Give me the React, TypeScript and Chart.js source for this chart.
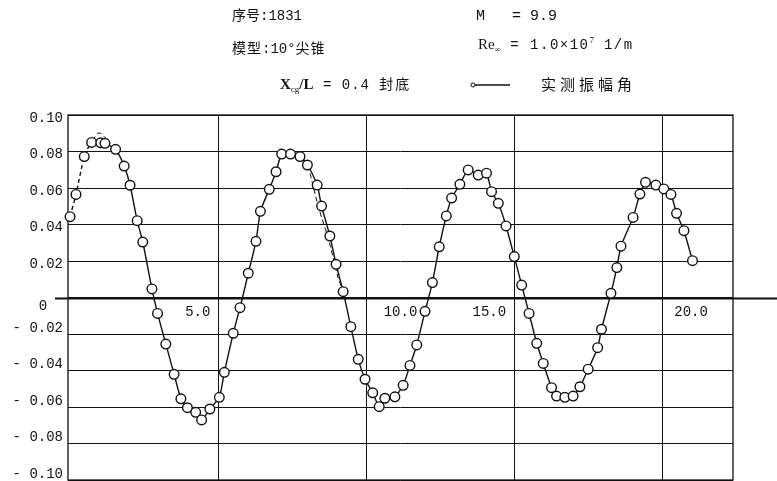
import React, { useEffect, useRef } from "react";
import { Chart, registerables } from "chart.js";

Chart.register(...registerables);

// time axis (x) and measured oscillation amplitude angle (y)
const timeValues = [
  -0.03, 0.17, 0.45, 0.7, 1.01, 1.15, 1.51, 1.8, 2.0, 2.24, 2.43, 2.74, 2.93, 3.21, 3.49, 3.72, 3.94, 4.22, 4.42, 4.7,
  5.02, 5.19, 5.49, 5.72, 6.0, 6.26, 6.41, 6.71, 6.94, 7.13, 7.43, 7.75, 8.0, 8.33, 8.48, 8.76, 8.97, 9.21, 9.47, 9.72,
  9.95, 10.21, 10.43, 10.62, 10.96, 11.24, 11.47, 11.7, 11.98, 12.23, 12.46, 12.7, 12.88, 13.16, 13.44, 13.78, 14.06,
  14.23, 14.46, 14.72, 15.0, 15.25, 15.5, 15.76, 15.98, 16.26, 16.43, 16.71, 16.99, 17.22, 17.5, 17.82, 17.95, 18.27,
  18.47, 18.61, 19.02, 19.25, 19.44, 19.79, 20.06, 20.3, 20.49, 20.74, 21.03,
];
const amplitudeValues = [
  0.0443, 0.0565, 0.0772, 0.085, 0.0848, 0.0845, 0.0812, 0.072, 0.0615, 0.0421, 0.0304, 0.0047, -0.0087, -0.0255,
  -0.0421, -0.0555, -0.0604, -0.0629, -0.0671, -0.0611, -0.0547, -0.041, -0.0196, -0.0056, 0.0133, 0.0308, 0.0472,
  0.0593, 0.0689, 0.0786, 0.0786, 0.0772, 0.0726, 0.0616, 0.0501, 0.0337, 0.0182, 0.0032, -0.016, -0.0339, -0.0448,
  -0.0522, -0.0598, -0.0552, -0.0544, -0.0481, -0.0372, -0.026, -0.0076, 0.0082, 0.0278, 0.0447, 0.0545, 0.062, 0.0699,
  0.0671, 0.0681, 0.058, 0.0516, 0.0392, 0.0224, 0.0068, -0.0087, -0.0251, -0.0361, -0.0494, -0.054, -0.0547, -0.054,
  -0.0489, -0.0393, -0.0275, -0.0174, 0.0023, 0.0164, 0.0281, 0.0439, 0.0567, 0.0631, 0.0616, 0.0595, 0.0565, 0.0461,
  0.0366, 0.0202,
];

// hand-drawn dashed guide segments
const guideTime = [0.72, 0.95, 1.2, 1.3, 8.09, 8.37, 8.72, 9.03, 9.23];
const guideValues = [0.086, 0.0902, 0.087, null, 0.068, 0.0498, 0.0315, 0.0114, 0.0023];

const yTickValues = [0.1, 0.08, 0.06, 0.04, 0.02, 0, -0.02, -0.04, -0.06, -0.08, -0.1];
const yTickLabels = ["0.10", "0.08", "0.06", "0.04", "0.02", "0", "- 0.02", "- 0.04", "- 0.06", "- 0.08", "- 0.10"];
const xTickValues = [5, 10, 15, 20];
const xTickLabels = ["5.0", "10.0", "15.0", "20.0"];

const INK = "#111111";
const LABEL_FONT = '14px "Liberation Mono", monospace';

const framePlugin = {
  id: "frame",
  beforeDatasetsDraw(chart: any) {
    const { ctx, chartArea, scales } = chart;
    const { left, right, top, bottom } = chartArea;
    ctx.save();
    ctx.strokeStyle = INK;
    ctx.lineWidth = 1.3;
    ctx.strokeRect(left, top, right - left, bottom - top);
    const y0 = Math.round(scales.y.getPixelForValue(0)) + 0.5;
    ctx.lineWidth = 2;
    ctx.beginPath();
    ctx.moveTo(55, y0);
    ctx.lineTo(chart.width, y0);
    ctx.stroke();
    ctx.restore();
  },
  afterDraw(chart: any) {
    const { ctx, chartArea, scales } = chart;
    ctx.save();
    ctx.fillStyle = INK;
    ctx.font = LABEL_FONT;
    ctx.textBaseline = "middle";
    // y labels
    yTickValues.forEach((v, i) => {
      const py = scales.y.getPixelForValue(v);
      const dy = v > 0 ? 3 : v === 0 ? 9 : -6;
      if (v === 0) {
        ctx.textAlign = "center";
        ctx.fillText(yTickLabels[i], 43, py + dy);
      } else {
        ctx.textAlign = "right";
        ctx.fillText(yTickLabels[i], chartArea.left - 5, py + dy);
      }
    });
    // x labels, placed along the zero line
    const y0 = scales.y.getPixelForValue(0);
    const dxs = [-21, 34, -25, 29];
    ctx.textAlign = "center";
    xTickValues.forEach((v, i) => {
      const px = scales.x.getPixelForValue(v);
      ctx.fillText(xTickLabels[i], px + dxs[i], y0 + 15);
    });
    ctx.restore();
  },
};

function ChartCanvas() {
  const ref = useRef<HTMLCanvasElement | null>(null);
  useEffect(() => {
    if (!ref.current) return;
    const chart = new Chart(ref.current, {
      type: "line",
      data: {
        datasets: [
          {
            label: "实测振幅角",
            data: timeValues.map((t, i) => ({ x: t, y: amplitudeValues[i] })),
            borderColor: INK,
            borderWidth: 1.4,
            pointRadius: 4.8,
            pointBackgroundColor: "#ffffff",
            pointBorderColor: INK,
            pointBorderWidth: 1.4,
            tension: 0.2,
            clip: false as any,
            segment: {
              borderDash: (c: any) => (c.p0DataIndex < 3 ? [4, 3] : undefined),
            },
          },
          {
            label: "guide",
            data: guideTime.map((t, i) => ({ x: t, y: guideValues[i] })),
            borderColor: INK,
            borderWidth: 1,
            borderDash: [5, 3],
            pointRadius: 0,
            tension: 0.3,
            spanGaps: false,
            clip: false as any,
          },
        ],
      },
      options: {
        animation: false,
        responsive: false,
        maintainAspectRatio: false,
        events: [],
        layout: { autoPadding: false, padding: { left: 0, top: 115, right: 44, bottom: 1 } },
        plugins: { legend: { display: false }, tooltip: { enabled: false } },
        scales: {
          x: {
            type: "linear",
            min: -0.1,
            max: 22.4,
            afterBuildTicks: (s: any) => {
              s.ticks = xTickValues.map((v) => ({ value: v }));
            },
            afterFit: (s: any) => {
              s.height = 0;
            },
            grid: { color: INK, lineWidth: 1, drawTicks: false },
            border: { display: false },
            ticks: { display: false },
          },
          y: {
            type: "linear",
            min: -0.1,
            max: 0.1,
            afterBuildTicks: (s: any) => {
              s.ticks = yTickValues.map((v) => ({ value: v }));
            },
            afterFit: (s: any) => {
              s.width = 68;
            },
            grid: { color: INK, lineWidth: 1, drawTicks: false },
            border: { display: false },
            ticks: { display: false },
          },
        },
      },
      plugins: [framePlugin],
    } as any);
    return () => chart.destroy();
  }, []);
  return <canvas ref={ref} width={777} height={481} style={{ display: "block" }} />;
}

const serif = '"Liberation Serif", "DejaVu Serif", "Noto Sans CJK SC", serif';
const mono = '"Liberation Mono", monospace';
const cjk = '"Noto Sans CJK SC", sans-serif';

const abs = (left: number, top: number, extra: React.CSSProperties = {}): React.CSSProperties => ({
  position: "absolute",
  left,
  top,
  whiteSpace: "nowrap",
  color: INK,
  lineHeight: 1,
  ...extra,
});

export default function App() {
  return (
    <div style={{ position: "fixed", left: 0, top: 0, width: 777, height: 481, background: "#fff", overflow: "hidden" }}>
      <ChartCanvas />
      <div style={abs(232, 7, { fontSize: 14 })}>
        <span style={{ fontFamily: cjk, fontWeight: 400 }}>序号</span>
        <span style={{ fontFamily: mono }}>:1831</span>
      </div>
      <div style={abs(232, 40, { fontSize: 14 })}>
        <span style={{ fontFamily: cjk, fontWeight: 400, letterSpacing: 1 }}>模型</span>
        <span style={{ fontFamily: mono }}>:10°</span>
        <span style={{ fontFamily: cjk, fontWeight: 400, letterSpacing: 1 }}>尖锥</span>
      </div>
      <div style={abs(280, 76, { fontSize: 14 })}>
        <span style={{ fontFamily: serif, fontWeight: 700, fontSize: 15 }}>X</span>
        <span style={{ fontFamily: serif, fontSize: 9, position: "relative", top: 3 }}>cg</span>
        <span style={{ fontFamily: serif, fontWeight: 700, fontSize: 15 }}>/L</span>
        <span style={{ fontFamily: mono, letterSpacing: 1 }}>&nbsp;= 0.4&nbsp;</span>
        <span style={{ fontFamily: cjk, fontWeight: 400, letterSpacing: 2 }}>封底</span>
      </div>
      <div style={abs(476, 9, { fontSize: 15, fontFamily: mono })}>M&nbsp;&nbsp;&nbsp;= 9.9</div>
      <div style={abs(478, 37, { fontSize: 14 })}>
        <span style={{ fontFamily: serif, fontSize: 15 }}>Re</span>
        <span style={{ fontFamily: serif, fontSize: 8, position: "relative", top: 3 }}>∞</span>
        <span style={{ fontFamily: mono, letterSpacing: 1.5 }}>&nbsp;= 1.0×10</span>
        <span style={{ fontFamily: serif, fontSize: 9, position: "relative", top: -6 }}>7</span>
        <span style={{ fontFamily: mono, letterSpacing: 1.5 }}>&nbsp;1/m</span>
      </div>
      <div style={abs(470, 81, {})}>
        <svg width={42} height={8} style={{ display: "block" }}>
          <circle cx={3} cy={4} r={2} fill="#fff" stroke={INK} strokeWidth={1} />
          <line x1={5} y1={4} x2={40} y2={4} stroke={INK} strokeWidth={1.3} />
        </svg>
      </div>
      <div style={abs(541, 76, { fontSize: 15, fontFamily: cjk, fontWeight: 400, letterSpacing: 4 })}>实测振幅角</div>
    </div>
  );
}
